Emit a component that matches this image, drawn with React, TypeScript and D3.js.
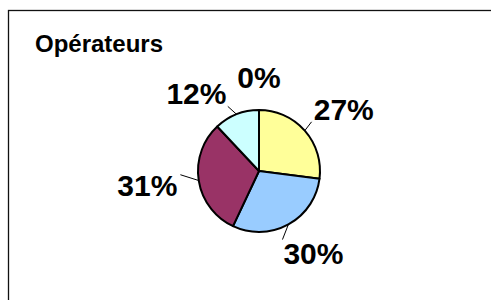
import * as d3 from "d3";

const W = 491;
const H = 300;

// slices, clockwise from 12 o'clock
const labels = ["27%", "30%", "31%", "12%", "0%"];
const values = [27, 30, 31, 12, 0];
const colors = ["#FFFF99", "#99CCFF", "#993366", "#CCFFFF", "#FFFFFF"];

const TITLE = "Opérateurs";
const FONT = "'Liberation Sans', Arial, sans-serif";

const CX = 259;
const CY = 171;
const R = 61;
const LABEL_GAP = 22;
const LABEL_SIZE = 30;
const CAP = LABEL_SIZE * 0.72;
const LABEL_PAD = 10;

// rough Arial Bold advance widths, in em
function textWidth(s: string, size: number) {
  let w = 0;
  for (const ch of s) w += ch === "%" ? 0.889 : 0.556;
  return w * size;
}

type Box = { cx: number; cy: number; w: number; h: number };

function boxAt(angle: number, w: number, h: number): Box {
  const ux = Math.sin(angle);
  const uy = -Math.cos(angle);
  return {
    cx: ux * (R + LABEL_GAP) + (ux * w) / 2,
    cy: uy * (R + LABEL_GAP) + (uy * h) / 2,
    w,
    h,
  };
}

function overlaps(a: Box, b: Box) {
  return (
    Math.abs(a.cx - b.cx) < (a.w + b.w) / 2 + LABEL_PAD &&
    Math.abs(a.cy - b.cy) < (a.h + b.h) / 2 + LABEL_PAD / 2
  );
}

export default function App() {
  const pie = d3
    .pie<number>()
    .sort(null)
    .startAngle(0)
    .endAngle(2 * Math.PI)
    .value((d) => d);
  const arcs = pie(values);

  const arc = d3.arc<d3.PieArcDatum<number>>().innerRadius(0).outerRadius(R);

  // small slices get their place first, bigger ones turn away on collision
  const order = d3.range(values.length).sort((a, b) => values[a] - values[b]);
  const boxes: (Box & { mid: number; i: number })[] = [];
  order.forEach((i) => {
    const a = arcs[i];
    const mid = (a.startAngle + a.endAngle) / 2;
    const w = textWidth(labels[i], LABEL_SIZE);
    let ang = mid;
    let b = boxAt(ang, w, CAP);
    for (let k = 0; k < 90; k++) {
      const hit = boxes.find((o) => overlaps(o, b));
      if (!hit) break;
      const diff = Math.atan2(Math.sin(ang - hit.mid), Math.cos(ang - hit.mid));
      ang += (diff >= 0 ? 1 : -1) * (Math.PI / 180);
      b = boxAt(ang, w, CAP);
    }
    boxes.push({ ...b, mid: ang, i });
  });

  const placed = boxes.map((b) => {
    const a = arcs[b.i];
    const mid = (a.startAngle + a.endAngle) / 2;
    const nx = Math.max(b.cx - b.w / 2, Math.min(0, b.cx + b.w / 2));
    const ny = Math.max(b.cy - b.h / 2, Math.min(0, b.cy + b.h / 2));
    const len = Math.hypot(nx, ny);
    const back = 3;
    return {
      ...b,
      lx1: Math.sin(mid) * R,
      ly1: -Math.cos(mid) * R,
      lx2: nx - (nx / len) * back,
      ly2: ny - (ny / len) * back,
      hasLeader: values[b.i] > 0,
    };
  });

  return (
    <svg
      width={W}
      height={H}
      style={{ position: "absolute", left: 0, top: 0, background: "#fff" }}
    >
      <rect x={8.5} y={10.5} width={W + 20} height={H + 20} fill="#fff" stroke="#111" strokeWidth={1.3} />
      <text x={35} y={52} fontFamily={FONT} fontWeight="bold" fontSize={24} fill="#000">
        {TITLE}
      </text>
      <g transform={`translate(${CX},${CY})`}>
        {arcs.map((a, i) =>
          a.value > 0 ? (
            <path key={i} d={arc(a) || ""} fill={colors[i]} stroke="#000" strokeWidth={2} strokeLinejoin="round" />
          ) : null
        )}
        {placed.map((p) =>
          p.hasLeader ? (
            <line key={"l" + p.i} x1={p.lx1} y1={p.ly1} x2={p.lx2} y2={p.ly2} stroke="#000" strokeWidth={1} />
          ) : null
        )}
        {placed.map((p) => (
          <text
            key={"t" + p.i}
            x={p.cx}
            y={p.cy + p.h / 2}
            textAnchor="middle"
            fontFamily={FONT}
            fontWeight="bold"
            fontSize={LABEL_SIZE}
            fill="#000"
          >
            {labels[p.i]}
          </text>
        ))}
      </g>
    </svg>
  );
}
